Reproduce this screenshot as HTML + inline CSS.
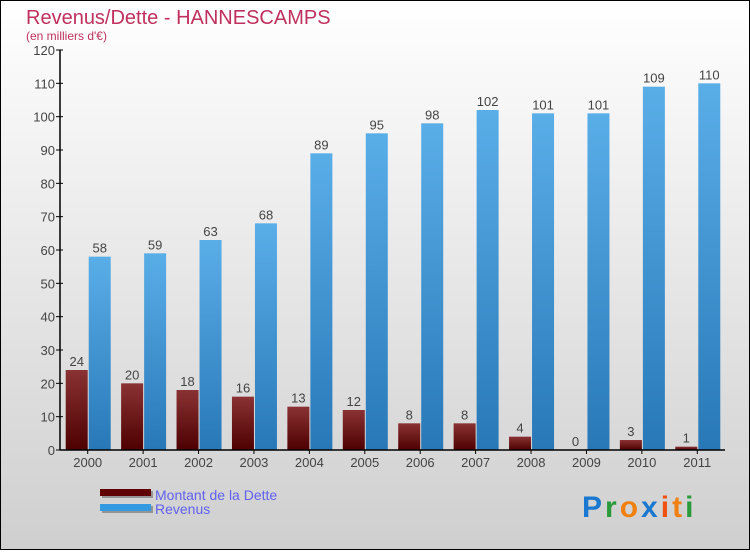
<!DOCTYPE html>
<html><head><meta charset="utf-8"><style>
body{margin:0;}
svg text{font-family:"Liberation Sans",sans-serif;}
</style></head><body>
<svg width="750" height="550" xmlns="http://www.w3.org/2000/svg">
<defs>
<linearGradient id="bg" x1="0" y1="0" x2="0" y2="1"><stop offset="0" stop-color="#ffffff"/><stop offset="1" stop-color="#cfcfcf"/></linearGradient>
<linearGradient id="gd" x1="0" y1="0" x2="0" y2="1"><stop offset="0" stop-color="#8a3234"/><stop offset="1" stop-color="#4e0000"/></linearGradient>
<linearGradient id="gr" x1="0" y1="0" x2="0" y2="1"><stop offset="0" stop-color="#5aaee8"/><stop offset="1" stop-color="#2878b8"/></linearGradient>
</defs>
<rect x="0.5" y="0.5" width="749" height="549" fill="url(#bg)" stroke="#000"/>
<text x="26" y="24" font-size="20" fill="#c0305e">Revenus/Dette - HANNESCAMPS</text>
<text x="26" y="40" font-size="12" fill="#c0305e">(en milliers d'€)</text>
<g id="plot"></g>
<g>
<rect x="102" y="491" width="51" height="7" fill="#555" opacity="0.5"/>
<rect x="100" y="489" width="51" height="7" fill="#600000"/>
<text x="155" y="500" font-size="14" fill="#6060f0">Montant de la Dette</text>
<rect x="102" y="506" width="51" height="7" fill="#555" opacity="0.5"/>
<rect x="100" y="504" width="51" height="7" fill="#3399e0"/>
<text x="155" y="514" font-size="14" fill="#6060f0">Revenus</text>
</g>
<g font-size="30" font-weight="bold" letter-spacing="3">
<text x="582" y="517"><tspan fill="#1a78d0">P</tspan><tspan fill="#2a9a3a">r</tspan><tspan fill="#f08010">o</tspan><tspan fill="#1a78d0">x</tspan><tspan fill="#f05010">i</tspan><tspan fill="#f08010">t</tspan><tspan fill="#2a9a3a">i</tspan></text>
</g>
</svg>
<script>
const categories=["2000","2001","2002","2003","2004","2005","2006","2007","2008","2009","2010","2011"];
const dette=[24,20,18,16,13,12,8,8,4,0,3,1];
const revenus=[58,59,63,68,89,95,98,102,101,101,109,110];
const yTicks=[0,10,20,30,40,50,60,70,80,90,100,110,120];
const NS="http://www.w3.org/2000/svg";
const g=document.getElementById('plot');
const x0=60,x1=725,yb=450,yt=50,ymax=120;
const band=(x1-x0)/categories.length;
const y=v=>yb-(v/ymax)*(yb-yt);
const cx=i=>x0+band*(i+0.5);
function mk(t,a){const e=document.createElementNS(NS,t);for(const k in a)e.setAttribute(k,a[k]);g.appendChild(e);return e;}
yTicks.forEach(v=>{
 const l=mk('line',{x1:x0-4,x2:x0+3,y1:y(v),y2:y(v),stroke:'#000'});
 
 
 const t=mk('text',{x:x0-5,y:y(v)+5,'text-anchor':'end','font-size':'13',fill:'#444'});
 t.textContent=v;
 
 
});
categories.forEach((c,i)=>{
 const bw=22;
 const d=mk('rect',{x:cx(i)-bw,y:y(dette[i]),width:bw,height:yb-y(dette[i]),fill:'url(#gd)'});
 
 
 const r=mk('rect',{x:cx(i)+1,y:y(revenus[i]),width:bw,height:yb-y(revenus[i]),fill:'url(#gr)'});
 
 
 const td=mk('text',{x:cx(i)-bw/2,y:y(dette[i])-4,'text-anchor':'middle','font-size':'13',fill:'#444'});
 td.textContent=dette[i];
 
 
 const tr=mk('text',{x:cx(i)+1+bw/2,y:y(revenus[i])-4,'text-anchor':'middle','font-size':'13',fill:'#444'});
 tr.textContent=revenus[i];
 
 
 const tk=mk('line',{x1:cx(i),x2:cx(i),y1:yb,y2:yb+4,stroke:'#000'});
 
 
 const tl=mk('text',{x:cx(i),y:yb+17,'text-anchor':'middle','font-size':'13',fill:'#444'});
 tl.textContent=c;
 
 
});
const ya=mk('line',{x1:x0,x2:x0,y1:yt,y2:yb,stroke:'#000','stroke-width':1.5});


const xa=mk('line',{x1:x0,x2:x1,y1:yb,y2:yb,stroke:'#000','stroke-width':1.5});


</script>
</body></html>
